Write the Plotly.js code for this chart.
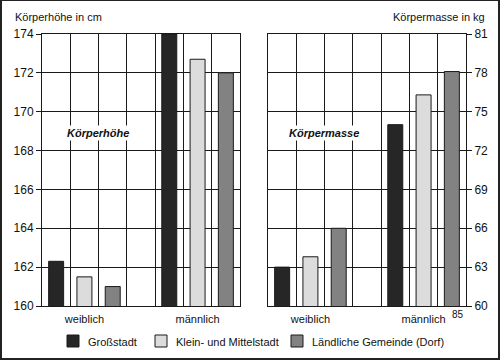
<!DOCTYPE html>
<html>
<head>
<meta charset="utf-8">
<script src="https://cdn.plot.ly/plotly-3.0.1.min.js"></script>
<style>
html,body{margin:0;padding:0;background:#fff;}
#wrap{position:relative;width:500px;height:360px;}
#chart{position:absolute;left:0;top:0;width:500px;height:360px;}
#frame{position:absolute;left:0;top:0;width:500px;height:360px;box-sizing:border-box;border-style:solid;border-color:#222;border-width:1px 2px 2px 2px;pointer-events:none;}
</style>
</head>
<body>
<div id="wrap"><div id="chart"></div><div id="frame"></div></div>
<script>
var categories = ['weiblich', 'männlich'];
var seriesNames = ['Großstadt', 'Klein- und Mittelstadt', 'Ländliche Gemeinde (Dorf)'];
var seriesColors = ['#262626', '#dcdcdc', '#828282'];

// Körperhöhe in cm
var hoeheGrossstadt = [162.3, 174.0];
var hoeheKleinstadt = [161.5, 172.7];
var hoeheDorf = [161.0, 172.0];

// Körpermasse in kg
var masseGrossstadt = [63.0, 74.0];
var masseKleinstadt = [63.8, 76.3];
var masseDorf = [66.0, 78.1];

var hoeheTicks = [160, 162, 164, 166, 168, 170, 172, 174];
var masseTicks = [60, 63, 66, 69, 72, 75, 78, 81];

var FONT = '"Liberation Sans", Arial, sans-serif';
var INK = '#1a1a1a';
var xIdx = categories.map(function (c, i) { return i; });

// plot-area geometry helpers (pixel -> paper)
var ML = 42, MT = 34, PW = 424, PH = 272;
function px(x) { return (x - ML) / PW; }
function py(y) { return (MT + PH - y) / PH; }

var hoeheSeries = [hoeheGrossstadt, hoeheKleinstadt, hoeheDorf];
var masseSeries = [masseGrossstadt, masseKleinstadt, masseDorf];

var traces = [];
hoeheSeries.forEach(function (vals, s) {
  traces.push({
    type: 'bar', x: xIdx, y: vals, name: seriesNames[s],
    xaxis: 'x', yaxis: 'y', showlegend: false,
    marker: {color: seriesColors[s], line: {color: INK, width: 1}},
    hoverinfo: 'skip'
  });
});
masseSeries.forEach(function (vals, s) {
  traces.push({
    type: 'bar', x: xIdx, y: vals, name: seriesNames[s],
    xaxis: 'x2', yaxis: 'y2', showlegend: false,
    marker: {color: seriesColors[s], line: {color: INK, width: 1}},
    hoverinfo: 'skip'
  });
});

function xAxis(domain, anchor) {
  return {
    domain: domain, anchor: anchor, type: 'linear',
    range: [-0.375, 1.375], tickvals: xIdx, ticktext: categories,
    showgrid: false, zeroline: false, ticks: '',
    showline: true, mirror: true, linecolor: INK, linewidth: 1,
    ticklabelstandoff: 3,
    tickfont: {family: FONT, size: 11, color: '#111'},
    minor: {tick0: 0.125, dtick: 0.25, showgrid: true, gridcolor: INK, gridwidth: 1, ticks: ''}
  };
}
function yAxis(range, ticks, anchor, side) {
  return {
    anchor: anchor, side: side, range: range, tickvals: ticks,
    showgrid: true, gridcolor: INK, gridwidth: 1, zeroline: false,
    ticks: 'outside', ticklen: 5, tickcolor: INK, tickwidth: 1,
    showline: true, mirror: true, linecolor: INK, linewidth: 1,
    tickfont: {family: FONT, size: 12, color: '#111'}
  };
}

// legend drawn from the series names / colours
var legendSwatchX = [67, 155, 291];
var shapes = [];
var annotations = [
  {text: 'Körperhöhe in cm', xref: 'paper', yref: 'paper', x: px(13), y: py(17),
   xanchor: 'left', yanchor: 'middle', showarrow: false, font: {family: FONT, size: 11, color: '#111'}},
  {text: 'Körpermasse in kg', xref: 'paper', yref: 'paper', x: px(487), y: py(17),
   xanchor: 'right', yanchor: 'middle', showarrow: false, font: {family: FONT, size: 11, color: '#111'}},
  {text: 'Körperhöhe', xref: 'x domain', yref: 'y domain', x: 0.283, y: 0.636,
   xanchor: 'center', yanchor: 'middle', showarrow: false, bgcolor: '#fff', borderpad: 1,
   font: {family: FONT, size: 11, color: '#111', weight: 'bold', style: 'italic'}},
  {text: 'Körpermasse', xref: 'x2 domain', yref: 'y2 domain', x: 0.285, y: 0.636,
   xanchor: 'center', yanchor: 'middle', showarrow: false, bgcolor: '#fff', borderpad: 1,
   font: {family: FONT, size: 11, color: '#111', weight: 'bold', style: 'italic'}},
  {text: '85', xref: 'paper', yref: 'paper', x: px(458), y: py(314),
   xanchor: 'center', yanchor: 'middle', showarrow: false, font: {family: FONT, size: 10, color: '#111'}}
];
seriesNames.forEach(function (name, s) {
  var x0 = legendSwatchX[s];
  shapes.push({type: 'rect', xref: 'paper', yref: 'paper',
    x0: px(x0), x1: px(x0 + 12), y0: py(347), y1: py(335),
    fillcolor: seriesColors[s], line: {color: INK, width: 1}});
  annotations.push({text: name, xref: 'paper', yref: 'paper', x: px(x0 + 19), y: py(341.5),
    xanchor: 'left', yanchor: 'middle', showarrow: false,
    font: {family: FONT, size: 11, color: '#111'}});
});

var layout = {
  width: 500, height: 360,
  margin: {l: ML, r: 500 - ML - PW, t: MT, b: 360 - MT - PH, autoexpand: false},
  paper_bgcolor: '#fff', plot_bgcolor: '#fff',
  font: {family: FONT, size: 11, color: '#111'},
  barmode: 'group', bargap: 0.25, bargroupgap: 0.47,
  xaxis: xAxis([0, px(240)], 'y'),
  yaxis: yAxis([160, 174], hoeheTicks, 'x', 'left'),
  xaxis2: xAxis([px(268), 1], 'y2'),
  yaxis2: yAxis([60, 81], masseTicks, 'x2', 'right'),
  showlegend: false,
  shapes: shapes,
  annotations: annotations
};

Plotly.newPlot('chart', traces, layout, {displayModeBar: false, staticPlot: true});
</script>
</body>
</html>
